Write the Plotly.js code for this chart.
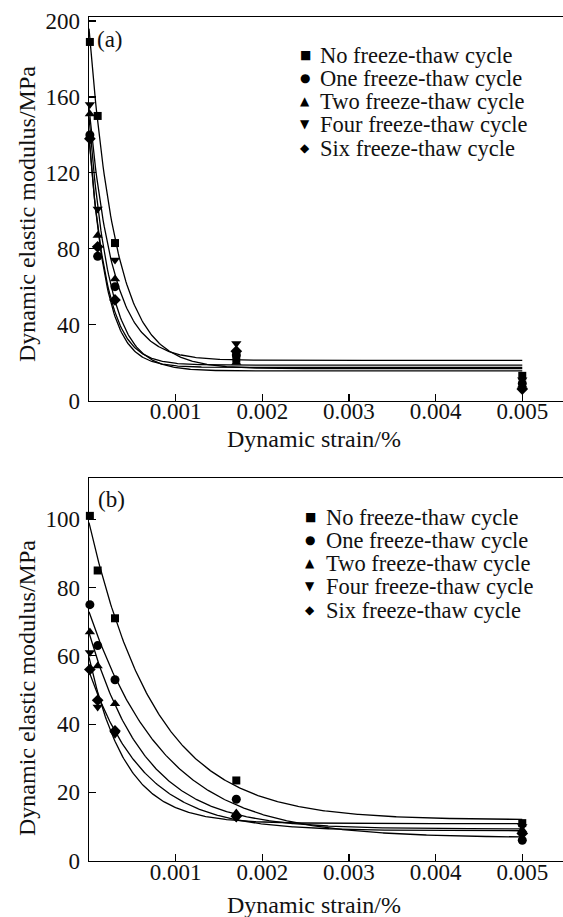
<!DOCTYPE html>
<html>
<head>
<meta charset="utf-8">
<script src="https://cdn.plot.ly/plotly-3.0.1.min.js"></script>
<style>
  html, body { margin: 0; padding: 0; background: #fff; }
  #chart { width: 563px; height: 917px; }
</style>
</head>
<body>
<div id="chart"></div>
<script>
// Dynamic strain (%) at which the modulus was measured
const strain = [0.00001, 0.0001, 0.0003, 0.0017, 0.005];

// Series labels and marker shapes
const seriesNames = [
  'No freeze-thaw cycle',
  'One freeze-thaw cycle',
  'Two freeze-thaw cycle',
  'Four freeze-thaw cycle',
  'Six freeze-thaw cycle'
];
const seriesSymbols = ['square', 'circle', 'triangle-up', 'triangle-down', 'diamond'];
const legendGlyphs = ['\u25A0', '\u25CF', '\u25B2', '\u25BC', '\u25C6'];

// Panel (a): dynamic elastic modulus, MPa
const modA_none = [189, 150, 83, 22, 13];
const modA_one  = [140, 76, 60, 24, 9];
const modA_two  = [151, 87, 64, 20, 8];
const modA_four = [156, 101, 74, 30, 11];
const modA_six  = [138, 81, 53, 26, 6];

// Panel (b): dynamic elastic modulus, MPa
const modB_none = [101, 85, 71, 23.5, 11];
const modB_one  = [75, 63, 53, 18, 6];
const modB_two  = [67, 57, 46, 14, 9];
const modB_four = [61, 45, 37, 12.5, 10];
const modB_six  = [56, 47, 38, 13, 8];

// Axis ticks
const xTickVals = [0.001, 0.002, 0.003, 0.004, 0.005];
const xTickText = ['0.001', '0.002', '0.003', '0.004', '0.005'];
const yTickValsA = [0, 40, 80, 120, 160, 200];
const yTickValsB = [0, 20, 40, 60, 80, 100];

const panelA = [modA_none, modA_one, modA_two, modA_four, modA_six];
const panelB = [modB_none, modB_one, modB_two, modB_four, modB_six];

// Least-squares fit of E = E0 + A*exp(-x/t): grid search on t, linear solve for E0 and A
function fitDecay(xs, ys) {
  let best = null;
  for (let k = 0; k <= 600; k++) {
    const t = Math.pow(10, -5.5 + k * (3.5 / 600));
    const e = xs.map(x => Math.exp(-x / t));
    const n = xs.length;
    const me = e.reduce((s, v) => s + v, 0) / n;
    const my = ys.reduce((s, v) => s + v, 0) / n;
    let cov = 0, vr = 0;
    for (let i = 0; i < n; i++) { cov += (e[i] - me) * (ys[i] - my); vr += (e[i] - me) ** 2; }
    if (vr < 1e-12) continue;
    const A = cov / vr;
    const E0 = my - A * me;
    let sse = 0;
    for (let i = 0; i < n; i++) sse += (ys[i] - E0 - A * e[i]) ** 2;
    if (!best || sse < best.sse) best = { t, A, E0, sse };
  }
  return best;
}

function curveFor(xs, ys) {
  const p = fitDecay(xs, ys);
  const xMax = xs[xs.length - 1];
  const cx = [], cy = [];
  for (let i = 0; i <= 400; i++) {
    const x = xMax * i / 400;
    cx.push(x);
    cy.push(p.E0 + p.A * Math.exp(-x / p.t));
  }
  return { cx, cy };
}

const traces = [];
function addPanel(series, xa, ya) {
  series.forEach((ys) => {
    const c = curveFor(strain, ys);
    traces.push({
      x: c.cx, y: c.cy, xaxis: xa, yaxis: ya, mode: 'lines',
      line: { color: '#000', width: 1.3 }, hoverinfo: 'skip', showlegend: false
    });
  });
  series.forEach((ys, i) => {
    traces.push({
      x: strain, y: ys, xaxis: xa, yaxis: ya, mode: 'markers', name: seriesNames[i],
      cliponaxis: false, showlegend: false,
      marker: { symbol: seriesSymbols[i], color: '#000', size: i === 0 ? 8 : 9,
                line: { width: 0 } }
    });
  });
}
addPanel(panelA, 'x', 'y');
addPanel(panelB, 'x2', 'y2');

const W = 563, H = 917;
const px = v => v / W;
const py = v => 1 - v / H;

const serif = 'Liberation Serif, Times New Roman, serif';
const tickFont = { family: serif, size: 23, color: '#111' };
const textFont = { family: serif, size: 23, color: '#111' };
const legendFont = { family: serif, size: 22.5, color: '#111' };
const titleFont = { family: serif, size: 24, color: '#111' };

function xAxis(anchor) {
  return {
    anchor, domain: [px(89), 1], range: [0, 0.00547],
    showline: true, linecolor: '#000', linewidth: 1.3, mirror: true,
    ticks: 'inside', ticklen: 7, tickwidth: 1.2, tickcolor: '#000',
    tickvals: xTickVals, ticktext: xTickText, tickfont: tickFont,
    ticklabelstandoff: -10,
    showgrid: false, zeroline: false, automargin: false
  };
}
function yAxis(anchor, domain, range, vals) {
  return {
    anchor, domain, range,
    showline: true, linecolor: '#000', linewidth: 1.3, mirror: false,
    ticks: 'inside', ticklen: 7, tickwidth: 1.2, tickcolor: '#000',
    tickvals: vals, tickfont: tickFont, ticklabelstandoff: 3,
    showgrid: false, zeroline: false, automargin: false
  };
}

const annotations = [];
function panelText(label, lx, ly, xTitleY, yTitleY, legX, legTextX, legRows) {
  annotations.push({ xref: 'paper', yref: 'paper', x: px(lx), y: py(ly), text: label,
    showarrow: false, xanchor: 'center', yanchor: 'middle', font: textFont });
  annotations.push({ xref: 'paper', yref: 'paper', x: px(314), y: py(xTitleY),
    text: 'Dynamic strain/%', showarrow: false, xanchor: 'center', yanchor: 'middle', font: titleFont });
  annotations.push({ xref: 'paper', yref: 'paper', x: px(27), y: py(yTitleY),
    text: 'Dynamic elastic modulus/MPa', textangle: -90, showarrow: false,
    xanchor: 'center', yanchor: 'middle', font: titleFont });
  seriesNames.forEach((name, i) => {
    annotations.push({ xref: 'paper', yref: 'paper', x: px(legX), y: py(legRows[i]),
      text: legendGlyphs[i], showarrow: false, xanchor: 'center', yanchor: 'middle',
      font: { family: 'DejaVu Sans', size: 12, color: '#000' } });
    annotations.push({ xref: 'paper', yref: 'paper', x: px(legTextX), y: py(legRows[i]),
      text: name, showarrow: false, xanchor: 'left', yanchor: 'middle', font: legendFont });
  });
}
panelText('(a)', 110, 39, 439, 214, 305, 318, [55, 78, 101, 124, 148]);
panelText('(b)', 111, 499, 905, 688, 310, 324, [517, 540, 563, 586, 610]);

const layout = {
  width: W, height: H,
  margin: { l: 0, r: 0, t: 0, b: 0 },
  paper_bgcolor: '#fff', plot_bgcolor: '#fff',
  showlegend: false,
  xaxis: xAxis('y'),
  yaxis: yAxis('x', [py(400.5), py(17.3)], [0, 202], yTickValsA),
  xaxis2: xAxis('y2'),
  yaxis2: yAxis('x2', [py(860.7), py(478.3)], [0, 112], yTickValsB),
  annotations
};

Plotly.newPlot('chart', traces, layout, { staticPlot: true, displayModeBar: false });
</script>
</body>
</html>
